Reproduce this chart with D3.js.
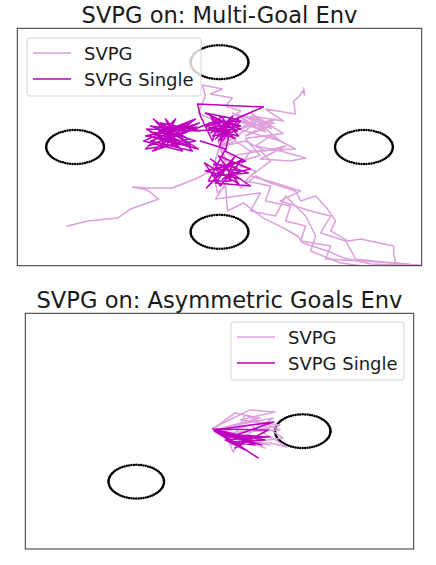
<!DOCTYPE html>
<html><head><meta charset="utf-8">
<script src="https://cdn.jsdelivr.net/npm/d3@7"></script>
<style>body{margin:0;background:#fff}svg{display:block}text{font-family:"DejaVu Sans",sans-serif;fill:#1a1a1a}</style>
</head><body><svg id="c" width="436" height="565"></svg>
<script>
// ---------- data ----------
const axisLimits = [-7, 7];
const seriesNames = ["SVPG", "SVPG Single"];
const titles = ["SVPG on: Multi-Goal Env", "SVPG on: Asymmetric Goals Env"];
const multiGoals = [[5, 0], [-5, 0], [0, 5], [0, -5]];
const asymGoals = [[3, 0], [-3, -3]];
const goalRadius = 1;

// Multi-goal env, SVPG particles
const multiSvpgA = [[0,0],[0.21,-0.83],[-0.31,-1.42],[-0.76,-1.83],[-1.63,-2.42],[-2.49,-2.42],[-3.01,-2.36],[-2.49,-2.54],[-2.11,-3.07],[-3.08,-3.66],[-3.53,-4.19],[-4.57,-4.36],[-5.27,-4.66]];
const multiSvpgB = [[0,0],[0.73,1.53],[1.49,0.94],[0.45,2.0],[1.77,1.24],[0.90,0.65],[1.94,1.65],[0.66,1.06],[2.11,0.35],[1.07,1.83],[2.22,1.53],[1.59,2.24],[2.63,1.95],[2.56,2.71],[2.74,2.95],[2.88,3.30],[2.95,3.07],[2.91,3.48]];
const multiSvpgC = [[0,0],[-0.14,1.53],[-0.73,2.0],[-0.49,3.01],[-0.59,3.66],[0.10,3.42],[-0.31,3.13],[0.45,2.89],[0.21,2.42],[0.73,2.12],[0.31,1.65],[1.25,1.42],[0.55,0.94]];
const multiSvpgD = [[0,0],[0.90,0.35],[1.59,-0.24],[2.29,0.06],[1.42,-0.71],[2.46,-0.83],[2.98,-0.65],[2.11,-0.24],[1.25,0.06],[1.77,0.65],[2.63,-0.12],[1.07,-0.24]];
const multiSvpgE = [[0,0],[0.55,0.35],[1.07,-0.24],[0.73,-1.12],[1.25,-1.42],[0.90,-2.0],[1.77,-2.30],[1.59,-3.18],[2.46,-3.48],[2.29,-4.36],[2.98,-4.66],[2.81,-5.54],[3.85,-5.84],[3.67,-6.60],[4.89,-6.72],[6.10,-6.84],[7.0,-7.0]];
const multiSvpgF = [[0,0],[0.38,-0.53],[1.42,-0.24],[1.77,-0.83],[1.07,-1.71],[1.94,-2.12],[2.81,-2.59],[2.11,-3.18],[3.15,-3.77],[3.85,-4.07],[3.50,-5.07],[4.37,-5.54],[4.71,-6.60],[6.27,-6.90],[7.0,-7.0]];
const multiSvpgG = [[0,0],[-0.24,-1.30],[-0.07,-2.71],[0.21,-2.30],[0.28,-3.77],[0.83,-3.30],[1.52,-4.19],[2.22,-4.78],[2.70,-5.25],[2.88,-5.66],[3.74,-6.13],[4.30,-6.54],[4.78,-6.72],[5.23,-6.90],[7.0,-7.0]];
const multiSvpgH = [[0,0],[0.45,-1.42],[0.73,-2.42],[1.25,-1.71],[1.77,-2.12],[2.63,-2.59],[2.81,-3.18],[3.33,-2.89],[3.74,-3.66],[4.02,-4.36],[3.85,-4.95],[4.44,-5.54],[4.89,-5.42],[6.03,-5.84],[6.03,-6.31],[6.10,-6.84],[7.0,-7.0]];
const multiSvpgI = [[0,0],[0.38,-1.71],[-0.14,-3.07],[1.42,-2.71],[1.07,-3.77],[1.94,-4.07],[2.29,-2.89],[2.98,-4.07],[3.33,-5.25],[3.15,-6.13],[4.19,-6.84],[4.89,-7.0]];
const multiSvpgJ = [[0,0],[1.2,1.3],[0.6,1.9],[1.5,1.6],[0.8,1.2],[1.9,1.4],[1.0,1.7],[1.6,0.9],[0.7,1.5],[1.8,1.1],[1.1,2.0],[2.2,0.8],[0.9,0.5],[1.4,-0.5],[0.6,-0.9]];

// Multi-goal env, SVPG Single
const multiSingle = [[0,0],[0.21,1.24],[-0.31,0.83],[0.55,1.65],[-0.14,0.47],[0.38,1.42],[-0.38,1.06],[0.66,0.65],[0.03,1.83],[-0.24,0.35],[-0.66,1.83],[-0.76,2.54],[1.52,2.36],[0.55,1.65],[-0.49,2.0],[0.73,1.06],[-1.18,0.94],[-2.39,1.24],[-0.83,0.35],[-2.56,-0.12],[-1.52,1.65],[-2.04,0.06],[-1.0,1.42],[-2.46,0.65],[-0.73,-0.12],[-2.22,1.53],[-1.28,-0.24],[-2.63,0.35],[-1.70,1.06],[-0.83,1.65],[-2.32,-0.24],[-1.07,0.47],[-2.04,1.42],[-0.66,0.94],[-2.53,1.06],[-1.42,0],[-1.87,1.65],[-0.94,-0.24],[-2.39,0.35],[-1.18,1.24],[-2.56,0.65],[-1.35,0.35],[-2.11,0.94],[-0.80,1.18],[-2.46,0.06],[-1.63,0.65],[-2.29,1.65],[-1.0,0.06],[-1.98,0.47],[-0.69,1.42],[-1.9,0.8],[-1.5,0.3],[-2.2,0.5],[-1.3,1.1],[-1.8,0.2],[-1.6,1.3],[-2.0,1.0],[-1.2,0.6],[-2.4,0.9],[-1.7,0.5],[-1.1,0.9],[-0.14,1.53],[0.38,0.83],[-0.49,1.24],[0.66,1.65],[0.10,0.35],[-0.31,1.83],[0.55,0.47],[-0.14,1.06],[0.73,1.24],[-0.14,1.65],[0.62,0.94],[-0.24,0.65],[0.45,1.83],[-0.03,0.35],[0.73,1.53],[-0.38,1.42],[0.31,0.59],[0.21,-0.24],[0.90,-0.83],[-0.49,-1.42],[0.73,-1.89],[-0.31,-0.71],[1.07,-2.30],[-0.14,-2.12],[0.55,-0.53],[-0.45,-2.42],[0.31,-1.12],[1.0,-1.53],[-0.24,-1.71],[0.80,-0.71],[0.03,-2.30],[-0.52,-0.94],[0.66,-2.18],[-0.03,-0.53],[1.07,-1.30],[0.3,-1.6],[0.5,-0.9],[-0.1,-1.3],[0.8,-1.4],[0.1,-1.9],[0.6,-1.2],[-0.2,-1.0],[0.4,-2.0],[-0.38,-2.0],[0.21,-0.12],[-0.66,0.35],[0,0]];

// Asymmetric goals env, SVPG particles
const asymSvpgA = [[-0.23,0.13],[0.56,1.08],[1.46,0.78],[0.09,0.19],[1.93,0.78],[0.74,-0.52],[0.49,-1.24],[0.20,-0.05],[2.43,-0.94],[1.10,0.37],[-0.05,-0.11],[2.18,0.07],[0.92,0.96],[0.38,-0.82],[2.29,-0.40],[1.28,0.67],[-0.16,0.07],[1.64,-1.0]];
const asymSvpgB = [[-0.23,0.19],[1.10,1.26],[2.0,1.14],[0.74,0.67],[2.18,0.37],[0.31,-0.29],[1.82,-0.82],[0.02,0.07]];
// Asymmetric goals env, SVPG Single
const asymSingle = [[-0.23,0.13],[1.10,-0.52],[-0.16,0.07],[1.96,0.55],[0.31,-0.40],[1.39,-1.59],[-0.05,-0.05],[1.53,-0.82],[0.02,-0.17],[1.82,-0.34],[0.20,-0.52],[0.92,-1.11],[-0.20,0.01],[1.64,-0.52],[0.38,-0.64],[1.28,-0.82],[-0.13,0.13],[1.75,0.07],[0.56,-1.0],[1.10,-0.40],[-0.23,0.13]];

// ---------- layout ----------
const colorSvpg = "#dda0dd", colorSingle = "#bf00bf";
const panels = [
  {title: titles[0], l: 17.3, r: 421.7, t: 28.3, b: 265.7, titleY: 23, goals: multiGoals,
   svpg: [multiSvpgA, multiSvpgB, multiSvpgC, multiSvpgD, multiSvpgJ, multiSvpgE, multiSvpgF, multiSvpgG, multiSvpgH, multiSvpgI],
   single: [multiSingle], legend: {x: 27, y: 38, w: 174, h: 58}},
  {title: titles[1], l: 25.3, r: 413.7, t: 313.3, b: 549, titleY: 307.5, goals: asymGoals,
   svpg: [asymSvpgA, asymSvpgB], single: [asymSingle], legend: {x: 231, y: 322, w: 173, h: 58}}
];

const svg = d3.select("#c");
panels.forEach((p, i) => {
  const x = d3.scaleLinear().domain(axisLimits).range([p.l, p.r]);
  const y = d3.scaleLinear().domain(axisLimits).range([p.b, p.t]);
  const g = svg.append("g");
  const clipId = "clip" + i;
  g.append("clipPath").attr("id", clipId).append("rect")
    .attr("x", p.l).attr("y", p.t).attr("width", p.r - p.l).attr("height", p.b - p.t);
  const plot = g.append("g").attr("clip-path", `url(#${clipId})`);

  // goal circles as dotted rings
  const angles = d3.range(0, 360, 5).map(a => a * Math.PI / 180);
  p.goals.forEach(gl => {
    plot.append("g").selectAll("circle").data(angles).join("circle")
      .attr("cx", a => x(gl[0] + goalRadius * Math.cos(a)))
      .attr("cy", a => y(gl[1] + goalRadius * Math.sin(a)))
      .attr("r", 1.25).attr("fill", "#000");
  });

  const line = d3.line().x(d => x(d[0])).y(d => y(d[1]));
  plot.append("g").selectAll("path").data(p.svpg).join("path")
    .attr("d", line).attr("fill", "none").attr("stroke", colorSvpg)
    .attr("stroke-width", 1.5).attr("stroke-linejoin", "round").attr("stroke-linecap", "square");
  plot.append("g").selectAll("path").data(p.single).join("path")
    .attr("d", line).attr("fill", "none").attr("stroke", colorSingle)
    .attr("stroke-width", 1.5).attr("stroke-linejoin", "round").attr("stroke-linecap", "square");

  // frame
  g.append("rect").attr("x", p.l).attr("y", p.t).attr("width", p.r - p.l).attr("height", p.b - p.t)
    .attr("fill", "none").attr("stroke", "#333").attr("stroke-width", 1);

  // title
  g.append("text").attr("x", (p.l + p.r) / 2).attr("y", p.titleY)
    .attr("text-anchor", "middle").attr("font-size", 22.6).text(p.title);

  // legend
  const L = p.legend;
  const lg = g.append("g");
  lg.append("rect").attr("x", L.x).attr("y", L.y).attr("width", L.w).attr("height", L.h)
    .attr("rx", 3).attr("fill", "#fff").attr("fill-opacity", 0.8)
    .attr("stroke", "#d6d6d6").attr("stroke-width", 1);
  seriesNames.forEach((name, k) => {
    const yy = L.y + 15 + k * 26;
    lg.append("line").attr("x1", L.x + 6).attr("x2", L.x + 44).attr("y1", yy).attr("y2", yy)
      .attr("stroke", k === 0 ? colorSvpg : colorSingle).attr("stroke-width", 1.5);
    lg.append("text").attr("x", L.x + 57).attr("y", yy + 6.5).attr("font-size", 18).text(name);
  });
});
</script>
</body></html>
